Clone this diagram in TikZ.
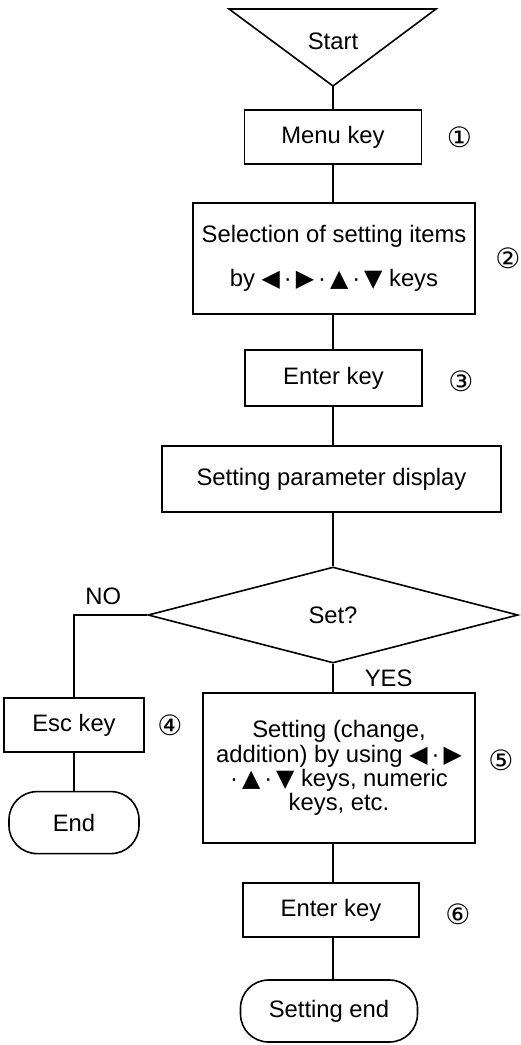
\documentclass[tikz,border=0pt]{standalone}
\usepackage{fontspec}
\setmainfont{Liberation Sans}
\newfontfamily\symfont{DejaVu Sans}
\usetikzlibrary{positioning, shapes.geometric}
\newcommand{\keyL}{{\symfont ◀}}
\newcommand{\keyR}{{\symfont ▶}}
\newcommand{\keyU}{{\symfont ▲}}
\newcommand{\keyD}{{\symfont ▼}}

\begin{document}
\begin{tikzpicture}[x=0.5pt, y=-0.5pt,
  every node/.style={font=\fontsize{11.9}{10.9}\selectfont},
  flow/.style={line width=0.8pt},
  box/.style={draw, line width=0.8pt, inner sep=0pt, align=center,
              minimum width=88.5pt, minimum height=27pt},
  term/.style={box, rounded corners=14pt, minimum height=31pt},
  decision/.style={draw, diamond, line width=0.8pt, inner sep=0pt, aspect=3.85,
                   minimum width=185pt, minimum height=48pt},
  num/.style={inner sep=0pt, font=\symfont\fontsize{14}{14}\selectfont},
  lbl/.style={inner sep=0pt}]
  \useasboundingbox (0,0) rectangle (520,1045);
  % start
  \draw[flow] (229,9) -- (436,9) -- (333,86) -- cycle;
  \node[lbl] (start) at (333,41) {Start};
  \coordinate (tip) at (333,86);
  % main column
  \node[box] (menu) at (333,137) {Menu key};
  \node[box, minimum width=141pt, minimum height=55.5pt] (select) at (334,258.5)
    {Selection of setting items\\[10pt]by \keyL\,·\,\keyR\,·\,\keyU\,·\,\keyD\ keys};
  \node[box, minimum height=28pt] (enter) at (333.5,378) {Enter key};
  \node[box, minimum width=169.5pt, minimum height=33pt] (display) at (331.5,479)
    {Setting parameter display};
  \node[decision] (set) at (333,615) {Set?};
  \node[box, minimum width=136pt, minimum height=75pt] (change) at (339,768)
    {Setting (change,\\addition) by using \keyL\,·\,\keyR\\·\,\keyU\,·\,\keyD\ keys, numeric\\keys, etc.};
  \node[box, minimum width=88pt] (enter2) at (331,910) {Enter key};
  \node[term] (setend) at (329,1011) {Setting end};
  % NO branch
  \node[box, minimum width=70pt] (esc) at (74,725) {Esc key};
  \node[term, minimum width=65pt, below=19pt of esc] (stop) {End};
  % step numbers
  \node[num] (n1) at ([xshift=18.5pt]menu.east) {①};
  \node[num] (n2) at ([xshift=16pt]select.east) {②};
  \node[num] (n3) at ([xshift=19pt, yshift=-1.5pt]enter.east) {③};
  \node[num] (n4) at ([xshift=12.5pt]esc.east) {④};
  \node[num] (n5) at ([xshift=12.5pt, yshift=4pt]change.east) {⑤};
  \node[num] (n6) at ([xshift=19pt, yshift=-2pt]enter2.east) {⑥};
  % connectors
  \draw[flow] (tip) -- (tip |- menu.north);
  \draw[flow] (menu.south -| tip) -- (tip |- select.north);
  \draw[flow] (select.south -| tip) -- (tip |- enter.north);
  \draw[flow] (enter.south -| tip) -- (tip |- display.north);
  \draw[flow] (display.south -| tip) -- (set.north);
  \draw[flow] (set.south) -- node[lbl, right=15.5pt] {YES} (set.south |- change.north);
  \draw[flow] (change.south -| tip) -- (tip |- enter2.north);
  \draw[flow] (enter2.south -| tip) -- (tip |- setend.north);
  \draw[flow] (set.west) -- node[lbl, above=4.5pt, pos=0.6] {NO} (set.west -| esc.north) -- (esc);
  \draw[flow] (esc) -- (stop);
\end{tikzpicture}
\end{document}
